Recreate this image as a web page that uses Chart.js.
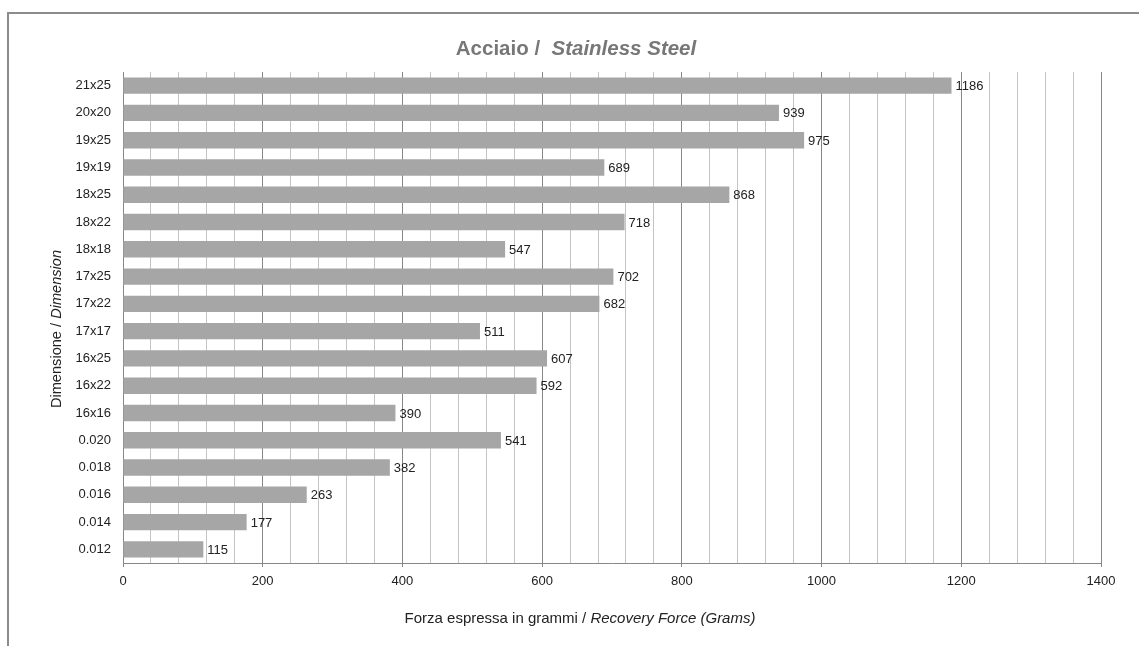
<!DOCTYPE html>
<html>
<head>
<meta charset="utf-8">
<script src="https://cdn.jsdelivr.net/npm/chart.js"></script>
<style>
  html, body { margin: 0; padding: 0; background: #fff; }
  #wrap { width: 1139px; height: 646px; position: relative; }
</style>
</head>
<body>
<div id="wrap"><canvas id="grafico"></canvas></div>
<script>
const dimensioni = ["21x25", "20x20", "19x25", "19x19", "18x25", "18x22", "18x18", "17x25", "17x22",
  "17x17", "16x25", "16x22", "16x16", "0.020", "0.018", "0.016", "0.014", "0.012"];
const forza = [1186, 939, 975, 689, 868, 718, 547, 702, 682, 511, 607, 592, 390, 541, 382, 263, 177, 115];
const xMax = 1400;
const passoMinore = 40;
const passoMaggiore = 200;

const FONT = "'Liberation Sans', Arial, sans-serif";

// testo con parte normale + parte corsiva
function testoMisto(ctx, parti, x, y, size, weight, color) {
  ctx.save();
  ctx.fillStyle = color;
  ctx.textBaseline = "middle";
  ctx.textAlign = "left";
  let tot = 0;
  parti.forEach(p => {
    ctx.font = `${p.italic ? "italic " : ""}${weight} ${size}px ${FONT}`;
    p.w = ctx.measureText(p.t).width;
    tot += p.w;
  });
  let cx = x - tot / 2;
  parti.forEach(p => {
    ctx.font = `${p.italic ? "italic " : ""}${weight} ${size}px ${FONT}`;
    ctx.fillText(p.t, cx, y);
    cx += p.w;
  });
  ctx.restore();
}

const decorazioni = {
  id: "decorazioni",
  afterDraw(chart) {
    const ctx = chart.ctx;
    // cornice (solo sopra e sinistra)
    ctx.save();
    ctx.strokeStyle = "#8c8c8c";
    ctx.lineWidth = 2;
    ctx.beginPath();
    ctx.moveTo(8, 646);
    ctx.lineTo(8, 13);
    ctx.lineTo(1139, 13);
    ctx.stroke();
    ctx.restore();

    testoMisto(ctx, [{ t: "Acciaio /  " }, { t: "Stainless Steel", italic: true }], 576, 49, 20.5, "bold", "#777777");
    testoMisto(ctx, [{ t: "Forza espressa in grammi / " }, { t: "Recovery Force (Grams)", italic: true }], 580, 619, 15, "normal", "#222222");

    ctx.save();
    ctx.translate(57, 329);
    ctx.rotate(-Math.PI / 2);
    testoMisto(ctx, [{ t: "Dimensione / " }, { t: "Dimension", italic: true }], 0, 0, 14.6, "normal", "#222222");
    ctx.restore();

    // etichette valori
    const meta = chart.getDatasetMeta(0);
    ctx.save();
    ctx.font = `13px ${FONT}`;
    ctx.fillStyle = "#222222";
    ctx.textBaseline = "middle";
    ctx.textAlign = "left";
    meta.data.forEach((bar, i) => {
      ctx.fillText(String(forza[i]), bar.x + 4, bar.y + 1);
    });
    ctx.restore();
  }
};

new Chart(document.getElementById("grafico"), {
  type: "bar",
  data: {
    labels: dimensioni,
    datasets: [{
      data: forza,
      backgroundColor: "#a6a6a6",
      borderWidth: 0,
      barPercentage: 0.6,
      categoryPercentage: 1
    }]
  },
  options: {
    indexAxis: "y",
    responsive: true,
    maintainAspectRatio: false,
    animation: false,
    layout: { padding: { left: 9, top: 72, right: 38, bottom: 60 } },
    plugins: {
      legend: { display: false },
      title: { display: false },
      tooltip: { enabled: false }
    },
    scales: {
      x: {
        min: 0,
        max: xMax,
        afterFit: s => { s.height = 23; },
        afterBuildTicks: s => {
          s.ticks = [];
          for (let v = 0; v <= xMax; v += passoMinore) s.ticks.push({ value: v });
        },
        ticks: {
          autoSkip: false,
          maxRotation: 0,
          padding: 7,
          color: "#222222",
          font: { family: FONT, size: 13 },
          callback: v => (v % passoMaggiore === 0 ? String(v) : "")
        },
        grid: {
          drawOnChartArea: true,
          tickLength: 4,
          lineWidth: 1,
          color: c => (c.tick && c.tick.value % passoMaggiore === 0 ? "#878787" : "#c4c4c4"),
          tickColor: c => (c.tick && c.tick.value % passoMaggiore === 0 ? "#878787" : "rgba(0,0,0,0)")
        },
        border: { display: true, color: "#878787", width: 1 }
      },
      y: {
        afterFit: s => { s.width = 114; },
        ticks: {
          padding: 12,
          color: "#222222",
          font: { family: FONT, size: 13 }
        },
        grid: { display: false, drawTicks: false },
        border: { display: true, color: "#878787", width: 1 }
      }
    }
  },
  plugins: [decorazioni]
});
</script>
</body>
</html>
